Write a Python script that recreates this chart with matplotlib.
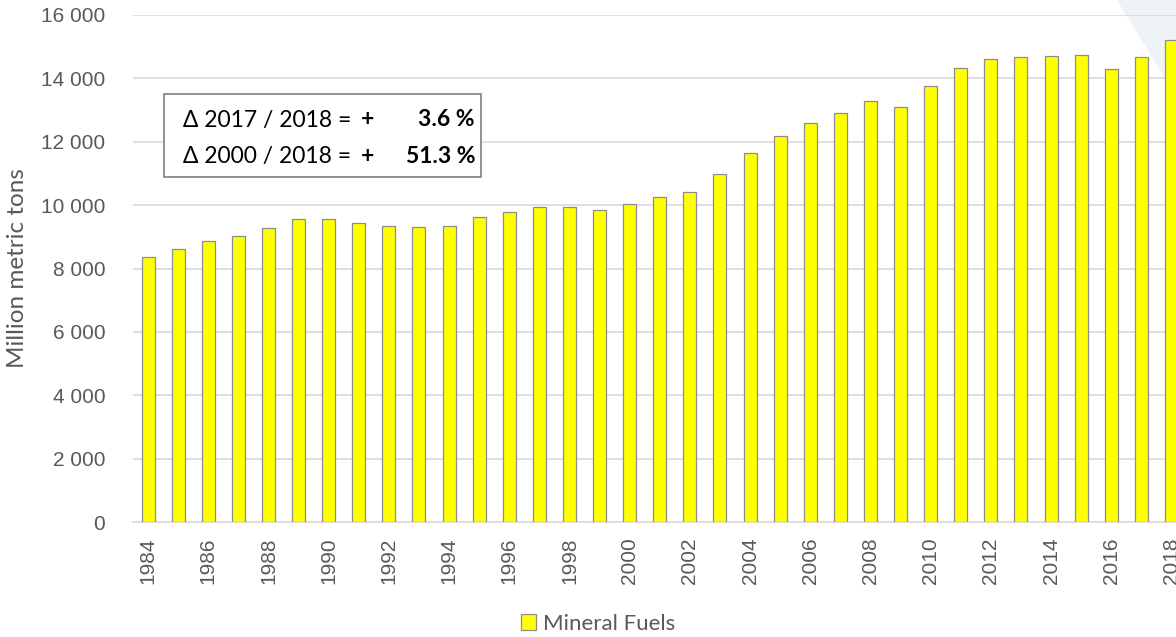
import matplotlib
matplotlib.use("Agg")
import matplotlib.pyplot as plt
from matplotlib.patches import Rectangle, Polygon
from matplotlib.ticker import FuncFormatter

years = list(range(1984, 2019))
values = [8360, 8620, 8870, 9030, 9280, 9560, 9560, 9440, 9340, 9310,
          9340, 9630, 9780, 9940, 9950, 9850, 10050, 10260, 10420, 10990,
          11650, 12180, 12600, 12910, 13290, 13100, 13760, 14330, 14600, 14660,
          14720, 14750, 14290, 14670, 15200]
series_name = "Mineral Fuels"
yticks = list(range(0, 16001, 2000))
xticks = list(range(1984, 2019, 2))

W, H = 1176, 637
fig = plt.figure(figsize=(W / 100, H / 100), dpi=100)

# light decorative triangle top right (behind the axes)
tri = Polygon([(1117 / W, 1), (1.0, 1), (1.0, 1 - 96 / H)], closed=True,
              transform=fig.transFigure, facecolor="#eef3f7", edgecolor="none", zorder=0)
fig.patches.append(tri)

ax = fig.add_axes([133 / W, 1 - 522 / H, 1053.5 / W, 507 / H])
ax.set_zorder(1)
ax.set_facecolor("none")
ax.bar(years, values, width=0.43, color="#ffff00", edgecolor="#8c8c8c",
       linewidth=0.9, label=series_name, zorder=3)

ax.set_xlim(1983.5, 2018.5)
ax.set_ylim(0, 16000)
ax.set_yticks(yticks)
ax.set_xticks(xticks)
ax.yaxis.set_major_formatter(FuncFormatter(lambda v, p: f"{int(v):,}".replace(",", " ")))
ax.grid(axis="y", color="#d9d9d9", linewidth=1.2, zorder=0)
ax.tick_params(length=0, colors="#595959", labelsize=15)
ax.tick_params(axis="y", pad=20)
ax.tick_params(axis="x", pad=11)
for lbl in ax.get_xticklabels() + ax.get_yticklabels():
    lbl.set_family("Liberation Sans")
for lbl in ax.get_xticklabels():
    lbl.set_rotation(90)
for s in ["top", "right", "left"]:
    ax.spines[s].set_visible(False)
ax.spines["bottom"].set_color("#d9d9d9")
ax.spines["bottom"].set_linewidth(1.2)

fig.text(18 / W, 1 - 268 / H, "Million metric tons", rotation=90, ha="center",
         va="center", fontsize=17.5, color="#595959", family="Lato")

# annotation box
fig.patches.append(Rectangle((164 / W, 1 - 177 / H), (481 - 164) / W, (177 - 94) / H,
                             transform=fig.transFigure, facecolor="white",
                             edgecolor="#7f7f7f", linewidth=1.2, zorder=5))
for yy, lab, pct in [(120, "Δ 2017 / 2018 =", "3.6 %"), (157, "Δ 2000 / 2018 =", "51.3 %")]:
    fig.text(183 / W, 1 - yy / H, lab, ha="left", va="center", fontsize=16.5,
             color="black", family="Lato", zorder=6)
    fig.text(368 / W, 1 - yy / H, "+", ha="center", va="center", fontsize=16.5,
             fontweight="bold", color="black", family="Lato", zorder=6)
    fig.text(475 / W, 1 - yy / H, pct, ha="right", va="center", fontsize=16.5,
             fontweight="bold", color="black", family="Lato", zorder=6)

leg = fig.legend(loc="center", bbox_to_anchor=(598 / W, 1 - 624 / H), frameon=False,
                 prop={"family": "Lato", "size": 16}, handlelength=0.7, handleheight=0.7,
                 handletextpad=0.3)
for t in leg.get_texts():
    t.set_color("#595959")

fig.savefig("out.png", dpi=100)
